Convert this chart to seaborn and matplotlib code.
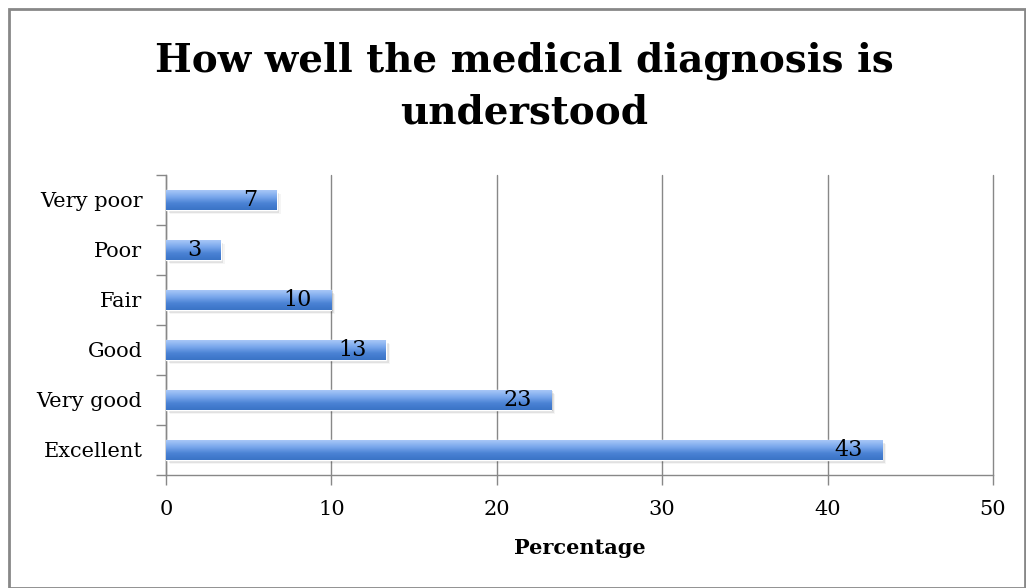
import numpy as np
import pandas as pd
import matplotlib
matplotlib.use("Agg")
import matplotlib.pyplot as plt
from matplotlib.colors import LinearSegmentedColormap
from matplotlib.patches import Rectangle
import seaborn as sns

categories = ["Very poor", "Poor", "Fair", "Good", "Very good", "Excellent"]
percentages = [6.7, 3.3, 10.0, 13.3, 23.3, 43.3]
x_ticks = [0, 10, 20, 30, 40, 50]

df = pd.DataFrame({"Rating": categories, "Percentage": percentages})

sns.set_theme(style="white")
plt.rcParams["font.family"] = ["DejaVu Serif"]
plt.rcParams["text.color"] = "black"
plt.rcParams["xtick.color"] = "black"
plt.rcParams["ytick.color"] = "black"
plt.rcParams["axes.labelcolor"] = "black"

fig = plt.figure(figsize=(10.26, 5.88), dpi=100)
ax = fig.add_axes([0.1618, 0.1922, 0.806, 0.5102])

sns.barplot(data=df, y="Rating", x="Percentage", order=categories,
            color="#5b8fdc", width=0.4, ax=ax, zorder=3)

# vertical gradient fill and soft drop shadow on each bar
grad = LinearSegmentedColormap.from_list("bar", ["#a8c7f7", "#7aa8ec", "#4a82d4", "#3a73c6"])
g = np.linspace(0, 1, 64).reshape(-1, 1)
for p in list(ax.patches):
    x0, y0 = p.get_x(), p.get_y()
    w, h = p.get_width(), p.get_height()
    for k, a in enumerate([0.12, 0.08, 0.04]):
        sh = Rectangle((x0 + 0.08 * (k + 1), y0 + 0.03 * (k + 1)), w, h,
                       facecolor="black", alpha=a, edgecolor="none", zorder=2)
        ax.add_patch(sh)
    img = ax.imshow(g, cmap=grad, aspect="auto", extent=(x0, x0 + w, y0 + h, y0),
                    zorder=3.5, interpolation="bicubic")
    img.set_clip_path(p)

for i, v in enumerate(percentages):
    ax.annotate(f"{v:.0f}", xy=(v, i), xytext=(-14, 0), textcoords="offset points",
                ha="right", va="center", fontsize=16, color="black", zorder=5)

ax.set_xlim(0, 50)
ax.set_ylim(5.5, -0.5)
ax.set_xticks(x_ticks)
ax.set_xticklabels([str(t) for t in x_ticks], fontsize=15)
ax.tick_params(axis="y", labelsize=15, length=0, pad=17)
ax.tick_params(axis="x", length=7, direction="out", width=1, color="#888888", pad=11,
               bottom=True)
# y tick marks between categories
ax.set_yticks(np.arange(-0.5, 6.0, 1.0), minor=True)
ax.tick_params(axis="y", which="minor", length=7, direction="out", color="#888888",
               left=True)
ax.set_ylabel("")
ax.set_xlabel("Percentage", fontsize=15, fontweight="bold", labelpad=14)

ax.grid(axis="x", color="#888888", linewidth=1, zorder=0)
for gl in ax.get_xgridlines():
    gl.set_clip_on(False)
ax.set_axisbelow(True)
for s in ["top", "right"]:
    ax.spines[s].set_visible(False)
for s in ["left", "bottom"]:
    ax.spines[s].set_color("#888888")
    ax.spines[s].set_linewidth(1)

fig.text(0.511, 0.853, "How well the medical diagnosis is\nunderstood", ha="center",
         va="center", fontsize=28, fontweight="bold", linespacing=1.45, color="black")

fig.patches.append(Rectangle((0.009, 0.0), 0.99, 0.985, transform=fig.transFigure,
                             fill=False, edgecolor="#888888", linewidth=2))

fig.savefig("out.png", dpi=100)
